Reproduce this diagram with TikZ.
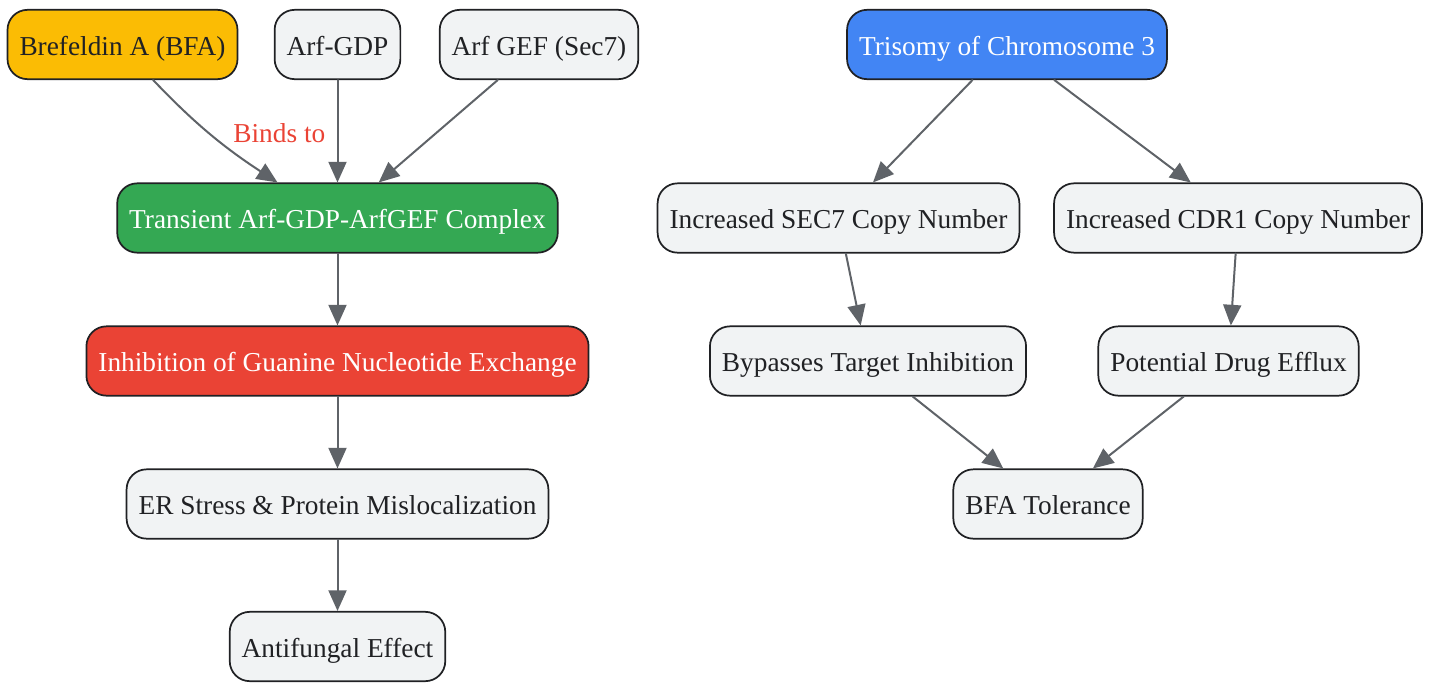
\documentclass[tikz,border=0pt]{standalone}
\usepackage{fontspec}
\setmainfont{Liberation Serif}
\usetikzlibrary{arrows.meta}
\definecolor{gyellow}{HTML}{FBBC04}
\definecolor{ggreen}{HTML}{34A853}
\definecolor{gred}{HTML}{EA4335}
\definecolor{gblue}{HTML}{4285F4}
\definecolor{boxgray}{HTML}{F1F3F4}
\definecolor{boxline}{HTML}{202124}
\definecolor{linkgray}{HTML}{5F6368}
\begin{document}
\begin{tikzpicture}[x=0.75pt,y=-0.75pt,line cap=round,line join=round,
    box/.style={draw=boxline,line width=1.3pt,rounded corners=15pt,fill=boxgray,
      text=boxline,minimum height=52pt,inner xsep=9pt,text height=18pt,text depth=2pt,
      font=\fontsize{20.5}{24}\selectfont},
    hot/.style={box,text=white},
    link/.style={draw=linkgray,line width=1.5pt,-{Triangle[length=15.5pt,width=13.5pt]}}]
  \useasboundingbox (0,0) rectangle (1431,682);
  % left column
  \node[box,fill=gyellow] (bfa) at (122.5,44.5) {Brefeldin A (BFA)};
  \node[box] (arfgdp) at (337.5,44.5) {Arf-GDP};
  \node[box] (arfgef) at (539,44.5) {Arf GEF (Sec7)};
  \node[hot,fill=ggreen] (cplx) at (337.5,218) {Transient Arf-GDP-ArfGEF Complex};
  \node[hot,fill=gred] (inhib) at (337.5,361) {Inhibition of Guanine Nucleotide Exchange};
  \node[box] (stress) at (337.5,504) {ER Stress \& Protein Mislocalization};
  \node[box] (effect) at (337.5,646.5) {Antifungal Effect};
  % right column
  \node[hot,fill=gblue] (tri) at (1007,44.5) {Trisomy of Chromosome 3};
  \node[box] (sec) at (838.5,218) {Increased SEC7 Copy Number};
  \node[box] (cdr) at (1238,218) {Increased CDR1 Copy Number};
  \node[box] (bypass) at (868,361) {Bypasses Target Inhibition};
  \node[box] (efflux) at (1228.5,361) {Potential Drug Efflux};
  \node[box] (toler) at (1048,504) {BFA Tolerance};

  \draw[link] ([xshift=23pt]bfa.south) .. controls +(40,42) and +(-55,-36) ..
    node[pos=0.5,anchor=west,inner sep=0pt,xshift=17pt,text=gred,
      font=\fontsize{20.5}{24}\selectfont] {Binds to}
    ([xshift=-45pt]cplx.north);
  \draw[link] (arfgdp) -- (cplx);
  \draw[link] (arfgef) -- (cplx);
  \draw[link] (cplx) -- (inhib);
  \draw[link] (inhib) -- (stress);
  \draw[link] (stress) -- (effect);

  \draw[link] (tri) -- (sec);
  \draw[link] (tri) -- (cdr);
  \draw[link] (sec) -- (bypass);
  \draw[link] (cdr) -- (efflux);
  \draw[link] (bypass) -- (toler);
  \draw[link] (efflux) -- (toler);
\end{tikzpicture}
\end{document}
